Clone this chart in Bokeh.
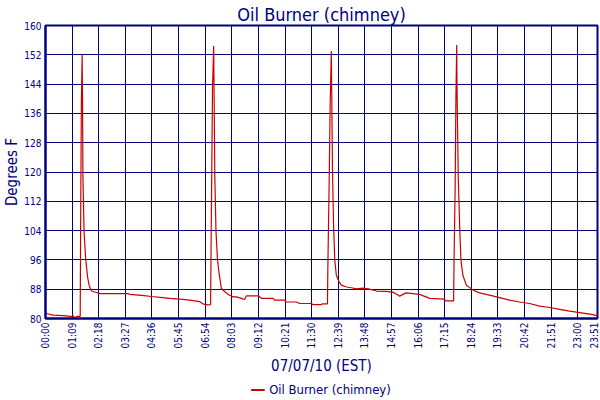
from math import pi

from bokeh.plotting import figure
from bokeh.layouts import column
from bokeh.models import FixedTicker
from bokeh.embed import file_html
from bokeh.resources import INLINE

# readings: minutes after midnight and chimney temperature (F)
minutes = [0, 5, 20, 55, 66, 72, 76, 82, 90,
           91, 93, 95, 96, 97, 100, 104, 109, 113, 119, 132, 141,
           214, 218, 249, 275, 304, 322, 356, 374, 400, 408, 420, 428,
           430, 433, 436, 437, 439, 442, 446, 450, 456, 465, 476, 486,
           495, 508, 516, 521, 551, 560, 590, 594, 620, 624, 650, 659,
           689, 693, 715, 718, 731,
           732, 735, 738, 741, 742, 744, 747, 750, 754, 761, 767, 780,
           793, 806, 823, 840, 858, 883, 900, 914, 918, 935, 970, 996,
           1034, 1037, 1058,
           1059, 1062, 1064, 1066, 1067, 1070, 1074, 1077, 1082, 1091,
           1099, 1108, 1125, 1151, 1177, 1203, 1229, 1255, 1281, 1307,
           1333, 1359, 1385, 1411, 1431]
temps = [81.5, 81.3, 80.9, 80.7, 80.5, 80.7, 80.2, 80.6, 80.6,
         103.6, 138.8, 152.0, 140.5, 119.0, 103.7, 96.5, 91.4, 89.1, 87.5, 87.1, 86.8,
         86.8, 86.6, 86.3, 86.0, 85.7, 85.5, 85.2, 85.0, 84.6, 84.0, 83.7, 83.8,
         108.7, 143.3, 154.4, 142.0, 118.5, 103.7, 95.9, 92.3, 88.2, 87.3, 86.4, 85.9,
         85.9, 85.5, 85.2, 86.2, 86.2, 85.5, 85.5, 85.0, 85.0, 84.5, 84.5, 84.1,
         84.1, 83.8, 83.8, 84.0, 84.0,
         94.1, 114.6, 138.7, 153.0, 141.9, 120.1, 104.6, 95.9, 91.8, 90.0, 89.1, 88.6,
         88.4, 88.1, 88.3, 88.0, 87.5, 87.4, 87.2, 86.4, 86.1, 87.0, 86.6, 85.5,
         85.3, 84.8, 84.8,
         95.0, 116.0, 140.5, 154.7, 141.5, 118.7, 104.1, 95.9, 91.8, 89.1,
         88.5, 87.8, 87.0, 86.4, 85.7, 85.0, 84.5, 84.1, 83.4, 83.0,
         82.5, 82.0, 81.6, 81.2, 80.8]

x_tick_labels = ["00:00", "01:09", "02:18", "03:27", "04:36", "05:45", "06:54",
                 "08:03", "09:12", "10:21", "11:30", "12:39", "13:48", "14:57",
                 "16:06", "17:15", "18:24", "19:33", "20:42", "21:51", "23:00",
                 "23:51"]
y_ticks = [80, 88, 96, 104, 112, 120, 128, 136, 144, 152, 160]
series_name = "Oil Burner (chimney)"

navy = "#000080"
red = "#CC0000"
font = "DejaVu Sans Condensed"

x_ticks = [int(s[:2]) * 60 + int(s[3:]) for s in x_tick_labels]

p = figure(frame_width=552, frame_height=293,
           x_range=(x_ticks[0], x_ticks[-1]),
           y_range=(y_ticks[0], y_ticks[-1]),
           title="Oil Burner (chimney)",
           x_axis_label="07/07/10 (EST)", y_axis_label="Degrees F",
           output_backend="svg", toolbar_location=None,
           min_border_left=0, min_border_right=2, min_border_top=25,
           min_border_bottom=60)

p.line(minutes, temps, color=red, line_width=1.2)

p.title.align = "center"
p.title.text_font = font
p.title.text_font_size = "18px"
p.title.text_font_style = "normal"
p.title.text_color = navy
p.title.standoff = 1

p.xaxis.ticker = FixedTicker(ticks=x_ticks)
p.xaxis.major_label_overrides = {t: s for t, s in zip(x_ticks, x_tick_labels)}
p.xaxis.major_label_orientation = pi / 2
p.yaxis.ticker = FixedTicker(ticks=y_ticks)

for ax in p.axis:
    ax.axis_line_color = navy
    ax.axis_line_width = 2
    ax.major_tick_in = 0
    ax.major_tick_out = 0
    ax.minor_tick_line_color = None
    ax.major_label_text_font = font
    ax.major_label_text_font_size = "10px"
    ax.major_label_text_color = navy
    ax.major_label_standoff = 4
    ax.axis_label_text_font = font
    ax.axis_label_text_font_size = "15px"
    ax.axis_label_text_font_style = "normal"
    ax.axis_label_text_color = navy
p.yaxis.axis_label_standoff = 0
p.xaxis.axis_label_standoff = 6

p.grid.grid_line_color = navy
p.grid.grid_line_width = 1
p.outline_line_color = navy
p.outline_line_width = 2
p.background_fill_color = "white"

# a thin strip under the chart just for the legend
# (one reading only, so the line itself draws nothing, only its key)
key = figure(width=598, height=22, output_backend="svg", toolbar_location=None,
             x_axis_location=None, y_axis_location=None, min_border=0)
key.outline_line_color = None
key.grid.visible = False
key.line(minutes[:1], temps[:1], color=red, line_width=2, legend_label=series_name)
key.legend.location = "center"
key.legend.border_line_color = None
key.legend.background_fill_alpha = 0
key.legend.label_text_font = font
key.legend.label_text_font_size = "13px"
key.legend.label_text_color = navy
key.legend.glyph_width = 14
key.legend.glyph_height = 12
key.legend.label_height = 14
key.legend.padding = 0
key.legend.margin = 0

open("out.html", "w").write(file_html(column(p, key, spacing=0), INLINE))
